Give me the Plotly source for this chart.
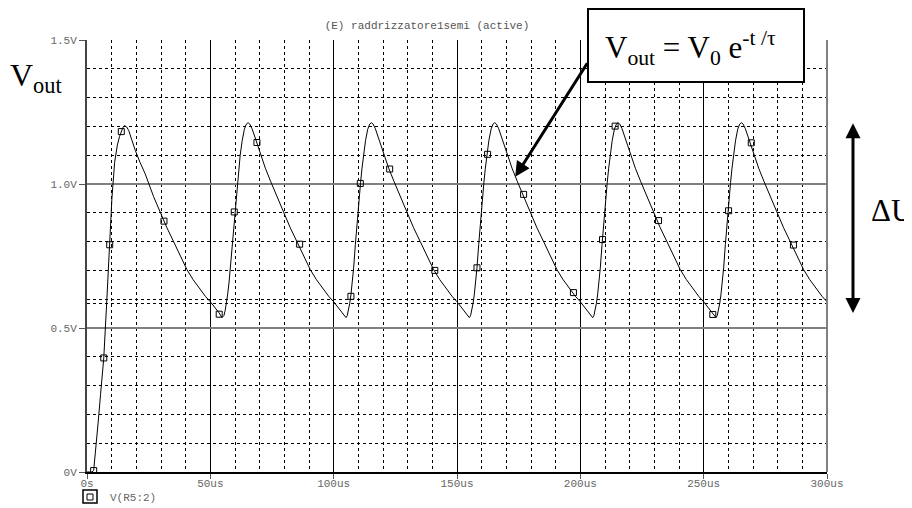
import plotly.graph_objects as go

# ---- curve samples (time in us, voltage in V) ----
time_us = [
    0.0, 1.0, 2.0, 2.7, 3.5, 4.5, 5.5, 6.8, 8.0, 9.2, 10.1, 11.2, 12.3, 13.2, 13.9, 14.6, 15.3,
    16.1, 16.9, 18.2, 19.6, 21.5, 23.6, 27.0, 29.7, 32.4, 35.1, 37.8, 40.5, 43.0, 45.5, 48.0,
    50.0, 52.0, 53.6, 54.7,
    55.5, 56.0, 56.5, 57.0, 57.6, 58.1, 58.8, 59.6, 60.3, 60.9, 61.5, 62.1, 62.9, 63.8, 64.6, 65.3,
    66.0, 66.9, 67.8, 68.9, 70.3, 72.3, 74.5, 77.0, 79.7, 82.4, 85.1, 87.8, 90.5, 93.0, 95.5, 98.0,
    100.0, 102.0, 103.6, 104.6, 105.0,
    105.5, 106.0, 106.5, 107.0, 107.6, 108.1, 108.8, 109.6, 110.3, 110.9, 111.5, 112.1, 112.9, 113.8, 114.6, 115.3,
    116.0, 116.9, 117.8, 118.9, 120.3, 122.3, 124.5, 127.0, 129.7, 132.4, 135.1, 137.8, 140.5, 143.0, 145.5, 148.0,
    150.0, 152.0, 153.6, 154.6, 155.0,
    155.5, 156.0, 156.5, 157.0, 157.6, 158.1, 158.8, 159.6, 160.3, 160.9, 161.5, 162.1, 162.9, 163.8, 164.6, 165.3,
    166.0, 166.9, 167.8, 168.9, 170.3, 172.3, 174.5, 177.0, 179.7, 182.4, 185.1, 187.8, 190.5, 193.0, 195.5, 198.0,
    200.0, 202.0, 203.6, 204.6, 205.0,
    205.5, 206.0, 206.5, 207.0, 207.6, 208.1, 208.8, 209.6, 210.3, 210.9, 211.5, 212.1, 212.9, 213.8, 214.6, 215.3,
    216.0, 216.9, 217.8, 218.9, 220.3, 222.3, 224.5, 227.0, 229.7, 232.4, 235.1, 237.8, 240.5, 243.0, 245.5, 248.0,
    250.0, 252.0, 253.6, 254.6, 255.0,
    255.5, 256.0, 256.5, 257.0, 257.6, 258.1, 258.8, 259.6, 260.3, 260.9, 261.5, 262.1, 262.9, 263.8, 264.6, 265.3,
    266.0, 266.9, 267.8, 268.9, 270.3, 272.3, 274.5, 277.0, 279.7, 282.4, 285.1, 287.8, 290.5, 293.0, 295.5, 298.0,
    300.0,
]
vout = [
    0.000, 0.000, 0.000, 0.005, 0.070, 0.170, 0.270, 0.396, 0.590, 0.789, 0.950, 1.075, 1.135, 1.165, 1.183, 1.197, 1.203,
    1.198, 1.186, 1.150, 1.116, 1.075, 1.035, 0.956, 0.900, 0.848, 0.800, 0.752, 0.703, 0.668, 0.638, 0.610,
    0.591, 0.570, 0.552, 0.536,
    0.543, 0.560, 0.585, 0.615, 0.660, 0.709, 0.790, 0.880, 0.950, 1.005, 1.055, 1.100, 1.150, 1.190, 1.208, 1.213,
    1.208, 1.192, 1.170, 1.142, 1.102, 1.055, 1.008, 0.956, 0.900, 0.848, 0.800, 0.752, 0.703, 0.668, 0.638, 0.610,
    0.591, 0.570, 0.552, 0.540, 0.536,
    0.543, 0.560, 0.585, 0.615, 0.660, 0.709, 0.790, 0.880, 0.950, 1.005, 1.055, 1.100, 1.150, 1.190, 1.208, 1.213,
    1.208, 1.192, 1.170, 1.142, 1.102, 1.055, 1.008, 0.956, 0.900, 0.848, 0.800, 0.752, 0.703, 0.668, 0.638, 0.610,
    0.591, 0.570, 0.552, 0.540, 0.536,
    0.543, 0.560, 0.585, 0.615, 0.660, 0.709, 0.790, 0.880, 0.950, 1.005, 1.055, 1.100, 1.150, 1.190, 1.208, 1.213,
    1.208, 1.192, 1.170, 1.142, 1.102, 1.055, 1.008, 0.956, 0.900, 0.848, 0.800, 0.752, 0.703, 0.668, 0.638, 0.610,
    0.591, 0.570, 0.552, 0.540, 0.536,
    0.543, 0.560, 0.585, 0.615, 0.660, 0.709, 0.790, 0.880, 0.950, 1.005, 1.055, 1.100, 1.150, 1.190, 1.208, 1.213,
    1.208, 1.192, 1.170, 1.142, 1.102, 1.055, 1.008, 0.956, 0.900, 0.848, 0.800, 0.752, 0.703, 0.668, 0.638, 0.610,
    0.591, 0.570, 0.552, 0.540, 0.536,
    0.543, 0.560, 0.585, 0.615, 0.660, 0.709, 0.790, 0.880, 0.950, 1.005, 1.055, 1.100, 1.150, 1.190, 1.208, 1.213,
    1.208, 1.192, 1.170, 1.142, 1.102, 1.055, 1.008, 0.956, 0.900, 0.848, 0.800, 0.752, 0.703, 0.668, 0.638, 0.610,
    0.591,
]

# ---- square markers placed along the trace ----
marker_time_us = [2.7, 6.8, 9.2, 13.9, 31.2, 53.6, 59.7, 68.9, 86.2, 107.0, 110.8, 122.7,
                  141.0, 158.1, 162.4, 177.0, 197.2, 209.0, 214.1, 231.7, 253.7, 260.1, 269.3, 286.4]
marker_vout = [0.005, 0.396, 0.789, 1.182, 0.871, 0.548, 0.903, 1.144, 0.791, 0.610, 1.002, 1.052,
               0.700, 0.709, 1.103, 0.964, 0.623, 0.807, 1.201, 0.873, 0.547, 0.907, 1.143, 0.788]

# ---- axes ----
x_tick_vals = [0, 50, 100, 150, 200, 250, 300]
x_tick_text = ["0s", "50us", "100us", "150us", "200us", "250us", "300us"]
y_tick_vals = [0, 0.5, 1.0, 1.5]
y_tick_text = ["0V", "0.5V", "1.0V", "1.5V"]
cursor_levels = [0.585]

# ---- annotation values (V) ----
delta_u_high = 1.211
delta_u_low = 0.547
arrow_target_time = 173.6
arrow_target_v = 1.025

MONO = "Liberation Mono"
SERIF = "Liberation Serif"
GRAY = "#666666"

# the page body adds an 8px offset; figure is sized to end at the window edges
W, H = 904, 500
PL, PR, PT, PB = 79, 85, 32, 36   # plot area 740 x 432


def px_x(xw):
    """window x pixel -> paper x"""
    return (xw - 8 - PL) / (W - PL - PR)


def px_y(yw):
    """window y pixel -> paper y"""
    return (H - PB - (yw - 8)) / (H - PT - PB)


fig = go.Figure()
fig.add_trace(go.Scatter(
    x=time_us, y=vout, mode="lines",
    line=dict(color="black", width=1), showlegend=False, hoverinfo="skip",
))
fig.add_trace(go.Scatter(
    x=marker_time_us, y=marker_vout, mode="markers", name="V(R5:2)",
    marker=dict(symbol="square-open", size=6, color="black", line=dict(width=1, color="black")),
    showlegend=True,
))

for lvl in cursor_levels:
    fig.add_shape(type="line", xref="paper", x0=0, x1=1, yref="y", y0=lvl, y1=lvl,
                  line=dict(color="black", width=1, dash="3px,3px"), layer="below")

# right border (gray)
fig.add_shape(type="line", xref="paper", x0=1, x1=1, yref="paper", y0=0, y1=1,
              line=dict(color="#808080", width=2), layer="above")
# legend outer box
fig.add_shape(type="rect", xref="paper", yref="paper",
              x0=px_x(83), x1=px_x(97), y0=px_y(503), y1=px_y(490),
              line=dict(color="black", width=1.5))
# formula box
fig.add_shape(type="rect", xref="paper", yref="paper",
              x0=px_x(588), x1=px_x(804), y0=px_y(82), y1=px_y(9),
              line=dict(color="black", width=2), fillcolor="white", layer="above")

fig.update_layout(
    width=W, height=H,
    margin=dict(l=PL, r=PR, t=PT, b=PB, autoexpand=False),
    paper_bgcolor="white", plot_bgcolor="white",
    title=dict(text="(E) raddrizzatore1semi (active)", x=(427 - 8) / W, xref="container", xanchor="center",
               y=1 - (25 - 8) / H, yref="container", yanchor="middle",
               font=dict(family=MONO, size=11, color="#555555")),
    showlegend=True,
    legend=dict(x=px_x(70), y=px_y(497), xanchor="left", yanchor="middle",
                bgcolor="rgba(0,0,0,0)", font=dict(family=MONO, size=11, color=GRAY),
                itemwidth=30, borderwidth=0, tracegroupgap=0),
    xaxis=dict(
        range=[0, 300], tickvals=x_tick_vals, ticktext=x_tick_text,
        showgrid=True, gridcolor="black", gridwidth=1,
        minor=dict(dtick=10, showgrid=True, gridcolor="black", gridwidth=1, griddash="3px,3px", ticks=""),
        showline=True, linecolor="black", linewidth=2, zeroline=False,
        ticks="outside", ticklen=5, tickcolor="#555555", tickwidth=1, ticklabelstandoff=-5,
        tickfont=dict(family=MONO, size=11, color=GRAY),
        fixedrange=True, automargin=False,
    ),
    yaxis=dict(
        range=[0, 1.5], tickvals=y_tick_vals, ticktext=y_tick_text,
        showgrid=True, gridcolor="#808080", gridwidth=2,
        minor=dict(dtick=0.1, showgrid=True, gridcolor="black", gridwidth=1, griddash="3px,3px", ticks=""),
        showline=True, linecolor="#444444", linewidth=2, zeroline=False,
        ticks="outside", ticklen=6, tickcolor="#555555", tickwidth=1,
        tickfont=dict(family=MONO, size=11, color=GRAY),
        fixedrange=True, automargin=False,
    ),
)

annotations = [
    # Time axis label (cut at the bottom edge, as in the original)
    dict(text="Time", xref="paper", yref="paper", x=0.5, y=0, xanchor="center", yanchor="top",
         yshift=-40, showarrow=False, font=dict(family=MONO, size=11, color=GRAY)),
    # V_out label
    dict(text="V<sub>out</sub>", xref="paper", yref="paper", x=px_x(8), y=px_y(78),
         xanchor="left", yanchor="middle", showarrow=False, font=dict(family=SERIF, size=32, color="black")),
    # diagonal arrow toward the decay
    dict(text="", xref="x", yref="y", x=arrow_target_time, y=arrow_target_v,
         ax=73, ay=-115, axref="pixel", ayref="pixel", showarrow=True,
         arrowhead=2, arrowsize=1, arrowwidth=3, arrowcolor="black"),
    # formula text
    dict(text="V<sub>out</sub> = V<sub>0</sub> e<sup>-t /τ</sup>", xref="paper", yref="paper",
         x=px_x(690), y=px_y(48), xanchor="center", yanchor="middle", showarrow=False,
         font=dict(family=SERIF, size=31, color="black")),
    # delta U double arrow
    dict(text="", xref="paper", yref="y", x=px_x(853), y=delta_u_high,
         ax=0, ay=delta_u_low, axref="pixel", ayref="y", showarrow=True,
         arrowside="end+start", arrowhead=2, startarrowhead=2, arrowsize=1, startarrowsize=1,
         arrowwidth=3, arrowcolor="black"),
    dict(text="ΔU", xref="paper", yref="paper", x=px_x(869), y=px_y(210),
         xanchor="left", yanchor="middle", showarrow=False,
         font=dict(family=SERIF, size=31, color="black")),
]
fig.update_layout(annotations=annotations)

fig.write_html("out.html")
